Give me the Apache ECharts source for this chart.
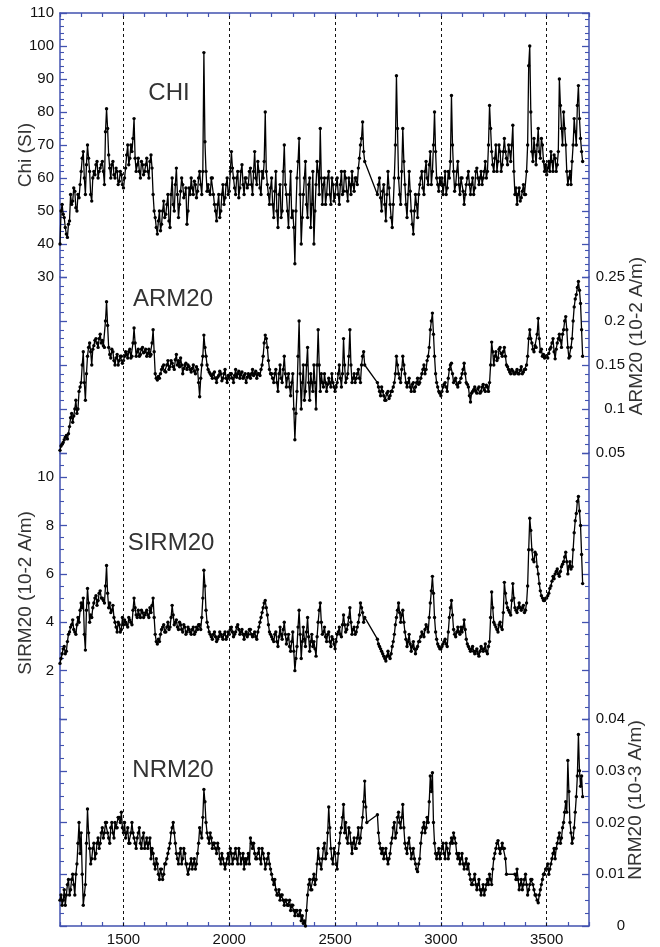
<!DOCTYPE html>
<html><head><meta charset="utf-8">
<script src="https://cdn.jsdelivr.net/npm/echarts@6/dist/echarts.min.js"></script>
<style>html,body{margin:0;padding:0;background:#fff}#c{width:660px;height:947px}</style>
</head><body><div id="c"></div>
<script>
const depth = [
1200,1210,1220,1230,1240,1250,1260,1270,1280,1290,
1300,1310,1320,1330,1340,1350,1360,1370,1380,1390,
1400,1410,1420,1430,1440,1450,1460,1470,1480,1490,
1500,1510,1520,1530,1540,1550,1560,1570,1580,1590,
1600,1610,1620,1630,1640,1650,1660,1670,1680,1690,
1700,1710,1720,1730,1740,1750,1760,1770,1780,1790,
1800,1810,1820,1830,1840,1850,1860,1870,1880,1890,
1900,1910,1920,1930,1940,1950,1960,1970,1980,1990,
2000,2010,2020,2030,2040,2050,2060,2070,2080,2090,
2100,2110,2120,2130,2140,2150,2160,2170,2180,2190,
2200,2210,2220,2230,2240,2250,2260,2270,2280,2290,
2300,2310,2320,2330,2340,2350,2360,2370,2380,2390,
2400,2410,2420,2430,2440,2450,2460,2470,2480,2490,
2500,2510,2520,2530,2540,2550,2560,2570,2580,2590,
2600,2610,2620,2630,2640,2650,2660,2670,2680,2690,
2700,2710,2720,2730,2740,2750,2760,2770,2780,2790,
2800,2810,2820,2830,2840,2850,2860,2870,2880,2890,
2900,2910,2920,2930,2940,2950,2960,2970,2980,2990,
3000,3010,3020,3030,3040,3050,3060,3070,3080,3090,
3100,3110,3120,3130,3140,3150,3160,3170,3180,3190,
3200,3210,3220,3230,3240,3250,3260,3270,3280,3290,
3300,3310,3320,3330,3340,3350,3360,3370,3380,3390,
3400,3410,3420,3430,3440,3450,3460,3470,3480,3490,
3500,3510,3520,3530,3540,3550,3560,3570,3580,3590,
3600,3610,3620,3630,3640,3650,3660,3670];

const depthMid = [
1205,1215,1225,1235,1245,1255,1265,1275,1285,1295,
1305,1315,1325,1335,1345,1355,1365,1375,1385,1395,
1405,1415,1425,1435,1445,1455,1465,1475,1485,1495,
1505,1515,1525,1535,1545,1555,1565,1575,1585,1595,
1605,1615,1625,1635,1645,1655,1665,1675,1685,1695,
1705,1715,1725,1735,1745,1755,1765,1775,1785,1795,
1805,1815,1825,1835,1845,1855,1865,1875,1885,1895,
1905,1915,1925,1935,1945,1955,1965,1975,1985,1995,
2005,2015,2025,2035,2045,2055,2065,2075,2085,2095,
2105,2115,2125,2135,2145,2155,2165,2175,2185,2195,
2205,2215,2225,2235,2245,2255,2265,2275,2285,2295,
2305,2315,2325,2335,2345,2355,2365,2375,2385,2395,
2405,2415,2425,2435,2445,2455,2465,2475,2485,2495,
2505,2515,2525,2535,2545,2555,2565,2575,2585,2595,
2605,2615,2625,2635,2645,2655,2665,2675,2685,2695,
2705,2715,2725,2735,2745,2755,2765,2775,2785,2795,
2805,2815,2825,2835,2845,2855,2865,2875,2885,2895,
2905,2915,2925,2935,2945,2955,2965,2975,2985,2995,
3005,3015,3025,3035,3045,3055,3065,3075,3085,3095,
3105,3115,3125,3135,3145,3155,3165,3175,3185,3195,
3205,3215,3225,3235,3245,3255,3265,3275,3285,3295,
3305,3315,3325,3335,3345,3355,3365,3375,3385,3395,
3405,3415,3425,3435,3445,3455,3465,3475,3485,3495,
3505,3515,3525,3535,3545,3555,3565,3575,3585,3595,
3605,3615,3625,3635,3645,3655,3665];

const chi = [
40,52,48,43,46,55,53,56,50,54,
62,68,55,70,62,53,62,64,60,63,
65,58,81,67,60,65,60,62,59,61,
57,63,70,66,68,78,62,66,60,64,
62,66,60,67,55,48,43,50,46,53,
49,55,45,60,50,63,48,56,58,55,
46,57,60,55,58,56,62,55,98,62,
58,55,60,52,47,55,50,58,54,60,
56,68,60,55,62,57,64,55,60,58,
63,55,68,58,62,55,60,80,58,52,
60,48,62,45,58,50,70,55,45,62,
50,34,60,72,40,55,65,48,60,52,
40,58,62,75,52,60,55,62,52,58,
55,60,52,62,56,60,53,58,62,56,
60,63,70,77,65,null,null,null,null,null,
55,60,50,58,47,62,52,45,60,91,
60,52,75,58,48,62,50,43,55,48,
58,62,55,65,58,68,62,80,60,56,
58,55,62,57,60,85,62,58,65,55,
60,52,58,62,55,60,57,63,58,62,
60,65,62,82,68,62,70,65,68,64,
72,66,70,65,76,55,52,57,54,58,
55,70,100,68,72,64,75,66,70,62,
61,65,68,62,66,64,90,75,80,70,
58,62,65,78,70,88,72,65];
const chiMid = [
50,49,45,42,47,52,57,51,55,58,
66,60,64,66,55,60,61,65,62,64,
62,74,75,63,64,61,63,58,62,58,
60,67,64,70,72,66,64,62,65,61,
64,62,65,63,50,45,47,44,50,48,
52,47,55,52,58,55,52,60,54,57,
50,55,57,59,54,60,58,62,71,56,
56,60,55,50,52,48,55,52,58,55,
62,63,57,60,54,62,58,60,57,62,
58,62,60,65,57,62,65,62,55,57,
52,56,50,55,48,62,58,50,55,48,
45,50,65,55,48,60,52,58,45,62,
50,65,55,60,58,52,60,55,60,53,
58,55,58,55,62,56,60,55,58,60,
58,66,72,68,null,null,null,null,null,null,
58,54,56,52,55,57,48,52,70,75,
55,62,65,52,55,56,46,50,52,55,
60,57,62,60,64,58,70,68,58,60,
60,58,55,62,65,70,56,62,58,60,
56,55,60,58,58,55,62,60,60,58,
62,60,70,75,64,66,62,70,62,68,
68,64,68,70,62,57,55,53,56,55,
62,94,80,65,68,70,68,72,65,64,
63,62,65,67,62,68,82,70,75,62,
60,58,70,74,82,78,68];

const arm = [
.053,.06,.065,.07,.072,.09,.085,.1,.095,.12,
.13,.165,.11,.16,.175,.15,.172,.18,.17,.185,
.178,.17,.222,.17,.158,.165,.15,.162,.155,.16,
.155,.165,.158,.168,.16,.192,.16,.168,.162,.17,
.165,.16,.168,.162,.19,.14,.133,.135,.145,.15,
.142,.155,.148,.152,.145,.162,.155,.158,.14,.15,
.145,.148,.142,.15,.14,.145,.114,.15,.184,.16,
.145,.14,.135,.142,.13,.138,.14,.135,.145,.13,
.135,.14,.13,.145,.14,.135,.142,.138,.13,.14,
.135,.145,.14,.135,.14,.145,.16,.184,.17,.145,
.14,.13,.145,.12,.15,.13,.16,.125,.14,.115,
.14,.065,.12,.2,.1,.15,.12,.17,.11,.13,
.15,.1,.19,.12,.13,.14,.12,.135,.125,.13,
.12,.13,.15,.125,.18,.13,.14,.19,.13,.14,
.135,.145,.13,.16,.15,null,null,null,null,null,
.13,.12,.125,.115,.11,.12,.115,.12,.13,.16,
.14,.13,.16,.14,.125,.135,.12,.13,.125,.135,
.13,.14,.15,.145,.16,.19,.209,.16,.13,.12,
.115,.125,.13,.12,.145,.152,.13,.135,.125,.13,
.14,.152,.13,.125,.108,.12,.125,.118,.125,.12,
.128,.12,.125,.13,.176,.15,.165,.158,.17,.16,
.17,.15,.145,.14,.143,.14,.145,.14,.148,.142,
.145,.16,.19,.175,.165,.17,.203,.165,.16,.158,
.16,.163,.17,.18,.157,.175,.185,.17,.19,.205,
.17,.16,.18,.216,.23,.245,.22,.16];
const armMid = [
.058,.062,.068,.066,.08,.095,.092,.11,.1,.125,
.15,.13,.14,.17,.165,.168,.178,.175,.18,.175,
.172,.2,.195,.162,.168,.155,.158,.15,.16,.152,
.16,.162,.165,.158,.175,.175,.165,.16,.168,.164,
.168,.163,.16,.175,.165,.135,.137,.14,.148,.143,
.15,.145,.155,.148,.156,.15,.148,.15,.146,.152,
.15,.145,.146,.143,.148,.13,.135,.16,.17,.15,
.142,.138,.14,.135,.136,.143,.132,.14,.135,.138,
.14,.135,.138,.136,.143,.14,.135,.14,.136,.138,
.14,.138,.143,.14,.138,.15,.175,.18,.155,.14,
.135,.14,.13,.14,.135,.145,.14,.135,.125,.13,
.1,.095,.16,.14,.13,.11,.15,.13,.14,.12,
.13,.15,.15,.14,.125,.13,.128,.13,.14,.125,
.125,.14,.135,.14,.15,.135,.16,.15,.135,.13,
.14,.135,.15,.165,null,null,null,null,null,null,
.125,.115,.12,.11,.118,.112,.12,.125,.14,.15,
.135,.145,.15,.13,.13,.125,.128,.12,.13,.128,
.135,.145,.14,.155,.17,.2,.185,.14,.125,.118,
.12,.128,.125,.135,.15,.14,.132,.128,.13,.135,
.145,.14,.128,.115,.118,.122,.12,.123,.118,.125,
.122,.127,.12,.15,.165,.16,.155,.168,.163,.165,
.16,.148,.142,.145,.14,.142,.14,.144,.14,.145,
.15,.18,.18,.168,.172,.185,.18,.168,.162,.16,
.158,.168,.175,.165,.168,.18,.178,.185,.2,.19,
.158,.17,.2,.225,.238,.235,.19];

const sirm = [
2.3,2.7,3.0,2.8,3.5,3.8,4.1,3.6,3.9,4.0,
4.8,5.0,2.85,5.4,4.0,4.2,4.8,5.1,4.9,5.3,
5.0,4.8,6.35,4.6,4.4,4.7,4.0,3.6,3.9,3.7,
3.9,4.0,3.8,4.1,3.9,5.0,4.3,4.5,4.2,4.4,
4.3,4.5,4.2,4.4,5.0,3.5,3.1,3.2,3.7,3.9,
3.6,4.0,3.8,4.7,3.9,4.1,3.7,3.9,3.6,3.8,
3.6,3.7,3.5,3.8,3.6,3.7,3.9,4.2,6.15,4.5,
3.8,3.5,3.3,3.6,3.2,3.4,3.5,3.3,3.6,3.4,
3.5,3.8,3.4,3.6,3.9,3.5,3.7,3.3,3.6,3.5,
3.7,3.4,3.6,3.3,3.8,4.2,4.6,4.9,4.3,3.6,
3.4,3.2,3.6,3.0,3.8,3.3,4.0,3.1,3.5,2.8,
3.6,2.0,3.0,4.5,2.5,3.8,3.0,4.2,2.8,3.5,
3.2,2.6,4.0,4.8,3.5,3.8,3.2,3.6,3.0,3.3,
2.9,3.5,3.8,3.4,4.3,3.6,3.9,4.6,3.5,3.8,
3.6,4.0,4.8,4.4,4.2,null,null,null,null,null,
3.3,3.0,2.8,2.6,2.4,2.8,2.5,3.0,3.5,4.2,
4.8,4.0,4.5,3.6,3.0,3.5,2.8,3.2,2.7,3.0,
3.2,3.6,3.4,3.9,3.6,4.8,5.9,4.2,3.3,3.0,
2.9,3.1,3.3,3.0,4.2,4.9,3.7,3.4,3.8,3.5,
3.6,4.1,3.3,3.0,2.8,3.0,2.7,2.9,2.6,3.0,
2.8,3.1,2.7,3.2,5.25,4.0,3.8,3.6,4.0,3.7,
5.65,4.8,4.5,4.3,5.6,4.6,4.4,4.8,4.5,4.7,
4.5,5.5,8.3,7.0,6.5,6.8,6.0,5.3,5.0,4.9,
5.0,5.2,5.5,5.9,6.0,6.2,5.9,6.3,6.5,6.9,
6.0,6.5,6.3,7.7,8.5,9.2,8.0,5.6];
const sirmMid = [
2.5,2.9,2.7,3.2,3.6,3.9,3.7,3.5,4.2,4.5,
4.6,3.5,4.5,4.8,4.3,4.6,5.0,4.7,5.2,5.0,
4.9,5.5,5.2,4.8,4.5,4.2,3.8,4.0,3.6,4.2,
4.1,3.9,4.2,4.0,4.5,4.6,4.2,4.3,4.5,4.2,
4.4,4.3,4.6,4.7,4.2,3.2,3.3,3.5,3.8,3.6,
3.8,3.7,4.2,4.3,4.0,3.8,4.0,3.7,3.9,3.5,
3.8,3.6,3.7,3.5,3.8,3.9,3.7,5.0,5.5,4.0,
3.6,3.4,3.5,3.4,3.3,3.6,3.4,3.5,3.3,3.6,
3.7,3.6,3.5,3.8,3.7,3.6,3.5,3.5,3.4,3.7,
3.5,3.5,3.4,3.6,4.0,4.4,4.8,4.6,3.9,3.5,
3.3,3.5,3.2,3.4,3.5,3.7,3.5,3.3,3.0,3.2,
2.8,2.5,3.8,3.5,3.2,3.3,3.6,3.4,3.2,3.0,
2.9,3.4,4.5,4.0,3.6,3.4,3.5,3.2,3.4,3.1,
3.2,3.6,3.5,3.9,3.9,3.7,4.2,4.0,3.7,3.5,
3.8,4.3,4.6,4.0,null,null,null,null,null,null,
3.1,2.9,2.7,2.5,2.6,2.6,2.7,3.2,3.9,4.5,
4.4,4.3,4.0,3.3,3.2,3.1,3.0,2.9,2.9,3.2,
3.4,3.5,3.7,3.8,4.2,5.3,5.2,3.6,3.1,2.9,
3.0,3.2,3.1,3.6,4.6,4.3,3.5,3.6,3.6,3.8,
3.8,3.7,3.1,2.9,2.9,2.8,2.8,2.7,2.8,2.9,
2.9,2.8,3.0,4.2,4.6,3.9,3.7,3.9,3.8,4.4,
5.2,4.6,4.4,4.9,5.0,4.5,4.6,4.6,4.6,4.4,
4.8,7.0,7.8,6.6,6.9,6.3,5.6,5.1,4.9,5.0,
5.1,5.4,5.7,5.8,6.1,6.0,6.1,6.4,6.7,6.5,
6.3,6.2,7.0,8.2,9.0,8.6,6.8];

const nrm = [
.005,.004,.007,.006,.009,.007,.01,.006,.012,.02,
.018,.004,.008,.0226,.015,.013,.016,.014,.017,.016,
.019,.018,.02,.017,.019,.018,.02,.019,.021,.022,
.018,.017,.019,.016,.02,.017,.015,.018,.016,.017,
.015,.017,.016,.013,.014,.011,.012,.009,.011,.01,
.012,.014,.016,.019,.018,.014,.012,.015,.013,.014,
.012,.011,.013,.012,.011,.014,.019,.017,.0264,.02,
.017,.018,.015,.016,.014,.015,.012,.013,.011,.013,
.012,.014,.013,.015,.012,.014,.013,.011,.012,.014,
.017,.015,.014,.013,.015,.012,.014,.011,.013,.012,
.01,.008,.007,.006,.005,.006,.004,.005,.004,.003,
.004,.002,.003,.002,.001,.0005,0,.006,.009,.007,
.01,.009,.015,.012,.013,.016,.014,.023,.015,.012,
.014,.011,.016,.019,.0235,.02,.016,.018,.014,.017,
.015,.019,.017,.021,.028,.02,null,null,null,null,
.0215,.016,.014,.013,.015,.012,.014,.017,.02,.018,
.022,.019,.0235,.016,.014,.017,.013,.015,.012,.0105,
.013,.018,.02,.019,.02,.029,.0296,.016,.013,.015,
.014,.016,.013,.015,.014,.017,.018,.016,.013,.012,
.014,.011,.013,.012,.009,.008,.01,.007,.009,.006,
.008,.007,.009,.01,.008,.013,.015,.0165,.014,.016,
.015,.01,null,null,null,.01,.011,.007,.009,.008,
.01,.006,.008,.009,.007,.006,.0045,.007,.009,.01,
.011,.01,.012,.014,.013,.016,.018,.017,.02,.024,
.032,.02,.016,.019,.025,.037,.027,.025];
const nrmMid = [
.006,.005,.004,.008,.006,.009,.008,.01,.016,.014,
.01,.006,.016,.018,.012,.015,.013,.016,.015,.018,
.017,.02,.018,.016,.02,.017,.019,.021,.02,.019,
.02,.018,.016,.018,.018,.016,.017,.019,.015,.018,
.016,.015,.017,.015,.012,.013,.01,.011,.009,.012,
.013,.015,.018,.02,.016,.013,.014,.012,.015,.012,
.01,.012,.011,.013,.012,.016,.018,.021,.024,.018,
.016,.017,.016,.015,.016,.013,.014,.012,.012,.014,
.015,.012,.014,.013,.015,.012,.014,.013,.013,.012,
.016,.016,.013,.014,.013,.015,.013,.012,.014,.011,
.009,.009,.006,.007,.006,.005,.005,.004,.005,.004,
.003,.003,.002,.003,.002,.001,.003,.008,.007,.009,
.008,.012,.013,.011,.015,.013,.018,.019,.013,.015,
.012,.014,.018,.021,.018,.017,.019,.016,.016,.015,
.017,.016,.019,.024,.023,null,null,null,null,null,
.018,.015,.015,.014,.013,.013,.016,.019,.017,.021,
.02,.021,.019,.015,.016,.015,.014,.013,.011,.012,
.016,.019,.018,.021,.024,.026,.02,.014,.014,.013,
.015,.014,.016,.013,.016,.016,.017,.014,.014,.013,
.012,.012,.011,.01,.008,.009,.008,.008,.007,.007,
.006,.008,.008,.009,.011,.014,.016,.015,.015,.015,
.013,null,null,null,null,.009,.009,.008,.007,.009,
.008,.007,.009,.008,.006,.005,.006,.008,.01,.011,
.012,.011,.013,.015,.015,.017,.016,.019,.022,.022,
.026,.018,.017,.022,.029,.03,.029];

const gridLines = [1500, 2000, 2500, 3000, 3500];
const panelTitles = ['CHI', 'ARM20', 'SIRM20', 'NRM20'];
const axisNames = ['Chi (SI)', 'ARM20 (10-2 A/m)', 'SIRM20 (10-2 A/m)', 'NRM20 (10-3 A/m)'];

const BLUE = '#4252b0';
const FONT = '"Liberation Sans", Arial, Helvetica, sans-serif';
const L = 60, R = 71;
const grids = [
  {left: L, right: R, top: 13, height: 264},
  {left: L, right: R, top: 277, height: 176},
  {left: L, right: R, top: 453, height: 266},
  {left: L, right: R, top: 719, height: 209}
];
const axLine = {show: true, onZero: false, lineStyle: {color: BLUE, width: 1.5}};
function xAx(i, extra) {
  return Object.assign({type: 'value', gridIndex: i, min: 1200, max: 3700, interval: 100, show: false,
    splitLine: {show: false}}, extra || {});
}
const xTick = {show: true, inside: true, length: 4, lineStyle: {color: BLUE, width: 1.2}};
const xAxes = [
  xAx(0, {show: true, position: 'top', axisLine: axLine, axisTick: xTick, axisLabel: {show: false}}),
  xAx(1), xAx(2),
  xAx(3, {show: true, position: 'bottom', axisLine: axLine, axisTick: xTick,
    axisLabel: {show: true, margin: 6, color: '#111', fontSize: 15, fontFamily: FONT,
      formatter: v => (v % 500 === 0 && v > 1200 && v < 3700) ? String(v) : ''}})
];
const ySpecs = [
  {min: 30, max: 110, interval: 10, split: 5, side: 'left', fmt: v => String(v)},
  {min: 0.05, max: 0.25, interval: 0.05, split: 5, side: 'right', fmt: v => String(+v.toFixed(3))},
  {min: 0, max: 11, interval: 2, split: 4, side: 'left', fmt: v => (v >= 2 && v <= 10 && v % 2 === 0) ? String(v) : ''},
  {min: 0, max: 0.04, interval: 0.01, split: 4, side: 'right', fmt: v => String(+v.toFixed(3))}
];
const yAxes = [];
ySpecs.forEach((s, i) => {
  ['left', 'right'].forEach(pos => {
    const lab = pos === s.side;
    yAxes.push({
      type: 'value', gridIndex: i, position: pos, min: s.min, max: s.max, interval: s.interval,
      axisLine: axLine,
      axisTick: {show: true, inside: true, length: 7, lineStyle: {color: BLUE, width: 1.3}},
      minorTick: {show: true, splitNumber: s.split, length: 4, lineStyle: {color: BLUE, width: 1.1}},
      splitLine: {show: false},
      axisLabel: lab ? {show: true, color: '#111', fontSize: 15, fontFamily: FONT, formatter: s.fmt,
        margin: pos === 'right' ? 36 : 6, align: 'right'} : {show: false}
    });
  });
});
function merged(xa, va, xb, vb) {
  const pts = xa.map((d, k) => [d, va[k]]).concat(xb.map((d, k) => [d, vb[k]]));
  pts.sort((p, q) => p[0] - q[0]);
  return pts;
}
const seriesData = [[chi, chiMid], [arm, armMid], [sirm, sirmMid], [nrm, nrmMid]];
const series = seriesData.map((pair, i) => ({
  type: 'line', xAxisIndex: i, yAxisIndex: 2 * i,
  data: merged(depth, pair[0], depthMid, pair[1]),
  connectNulls: true,
  symbol: 'circle', symbolSize: 3.4, showSymbol: true,
  lineStyle: {color: '#000', width: 1.3},
  itemStyle: {color: '#000'},
  markLine: {
    silent: true, symbol: ['none', 'none'], label: {show: false},
    lineStyle: {color: '#111', type: [3, 3], width: 1},
    data: gridLines.map(v => ({xAxis: v}))
  }
}));
const titlePos = [[169, 93], [173, 299], [171, 543], [173, 770]];
const namePos = [[26, 155], [637, 336], [26, 593], [636, 800]];
const graphic = [];
panelTitles.forEach((t, i) => graphic.push({type: 'text', x: titlePos[i][0], y: titlePos[i][1],
  style: {text: t, font: '24px ' + FONT, fill: '#333', align: 'center', verticalAlign: 'middle'}}));
axisNames.forEach((t, i) => graphic.push({type: 'text', x: namePos[i][0], y: namePos[i][1], rotation: Math.PI / 2,
  style: {text: t, font: '19px ' + FONT, fill: '#333', align: 'center', verticalAlign: 'middle'}}));

const chart = echarts.init(document.getElementById('c'), null, {renderer: 'canvas'});
chart.setOption({
  animation: false,
  backgroundColor: '#fff',
  grid: grids,
  xAxis: xAxes,
  yAxis: yAxes,
  series: series,
  graphic: graphic
});
</script></body></html>
